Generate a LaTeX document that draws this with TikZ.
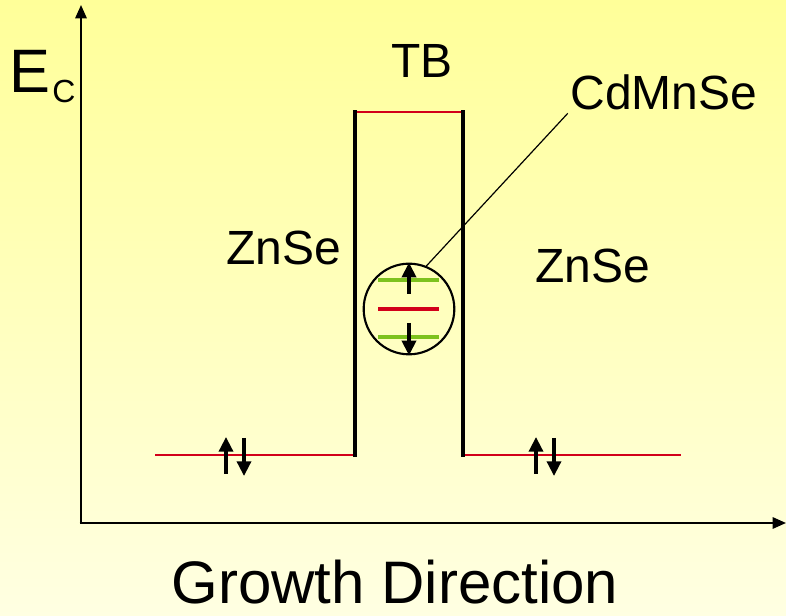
\documentclass[tikz,border=0pt]{standalone}
\usepackage{fontspec}
\setmainfont{Liberation Sans}
\usepackage{xcolor}
\usetikzlibrary{positioning, arrows.meta}

\definecolor{bandred}{HTML}{D2001A}
\definecolor{levelgreen}{HTML}{7DC21E}
\definecolor{bgtop}{HTML}{FFFF99}
\definecolor{bgbottom}{HTML}{FFFFE2}

\begin{document}
\begin{tikzpicture}[
    x=0.75pt, y=-0.75pt,
    axis/.style={-{Triangle[length=10pt,width=8.5pt]}, line width=1.5pt},
    wall/.style={line width=2.8pt, line cap=rect},
    band/.style={bandred, line width=1.6pt},
    level/.style={levelgreen, line width=2.4pt},
    spin/.style={-{Triangle[length=11pt,width=10.5pt]}, line width=2.5pt},
    label/.style={inner sep=0pt, anchor=base, font=\fontsize{36}{40}\selectfont},
]

% ---------- Background ----------
\shade[top color=bgtop, bottom color=bgbottom] (0,0) rectangle (786,616);
\useasboundingbox (0,0) rectangle (786,616);

% ---------- Axes ----------
\coordinate (origin) at (81,523);
\coordinate (ytip) at (81,5);
\coordinate (xtip) at (786,523);
\draw[axis] (origin) -- (ytip);
\draw[axis] ([xshift=-1pt]origin) -- (xtip);

\node[inner sep=0pt, anchor=base west, font=\fontsize{46}{50}\selectfont] (ec) at (9,93) {E};
\node[inner sep=0pt, anchor=base west, font=\fontsize{24}{28}\selectfont] (ecsub) at (52,103) {C};
\node[label, font=\fontsize{45}{50}\selectfont] (growth) at (395,604) {Growth Direction};

% ---------- Band profile ----------
\coordinate (leftend) at (155,455);
\coordinate (wellbl) at (355,455);
\coordinate (welltl) at (355,112);
\coordinate (welltr) at (463,112);
\coordinate (wellbr) at (463,455);
\coordinate (rightend) at (681,455);

\draw[band] (leftend) -- (wellbl);
\draw[band] (wellbr) -- (rightend);
\draw[band] (welltl) -- (welltr);
\draw[wall] (wellbl) -- (welltl);
\draw[wall] (welltr) -- (wellbr);

% ---------- Spin arrows ----------
\coordinate (lup0) at (226,474);  \coordinate (lup1) at (226,437);
\coordinate (ldn0) at (244,438);  \coordinate (ldn1) at (244,476);
\coordinate (rup0) at (536,474);  \coordinate (rup1) at (536,437);
\coordinate (rdn0) at (554,438);  \coordinate (rdn1) at (554,476);
\draw[spin] (lup0) -- (lup1);
\draw[spin] (ldn0) -- (ldn1);
\draw[spin] (rup0) -- (rup1);
\draw[spin] (rdn0) -- (rdn1);

% ---------- Quantum dot ----------
\node[circle, draw, line width=1.6pt, minimum size=68pt, inner sep=0pt] (dot) at (409,309) {};
\coordinate (gup0) at (378,280);  \coordinate (gup1) at (439,280);
\coordinate (red0) at (378,309);  \coordinate (red1) at (439,309);
\coordinate (gdn0) at (378,337);  \coordinate (gdn1) at (439,337);
\draw[level] (gup0) -- (gup1);
\draw[level] (gdn0) -- (gdn1);
\draw[band, line width=2.4pt] (red0) -- (red1);
\coordinate (aup) at (409,294);
\coordinate (adn) at (409,323);
\draw[spin] (aup) -- (dot.north);
\draw[spin] (adn) -- (dot.south);

% ---------- Labels ----------
\node[label] (tb) at (422,78) {TB};
\node[label, inner sep=2pt] (cdmnse) at (664,110) {CdMnSe};
\node[label] (znseL) at (284,265) {ZnSe};
\node[label] (znseR) at (593,283) {ZnSe};

\draw[line width=0.9pt] (dot.68) -- (cdmnse.south west);

\end{tikzpicture}
\end{document}
